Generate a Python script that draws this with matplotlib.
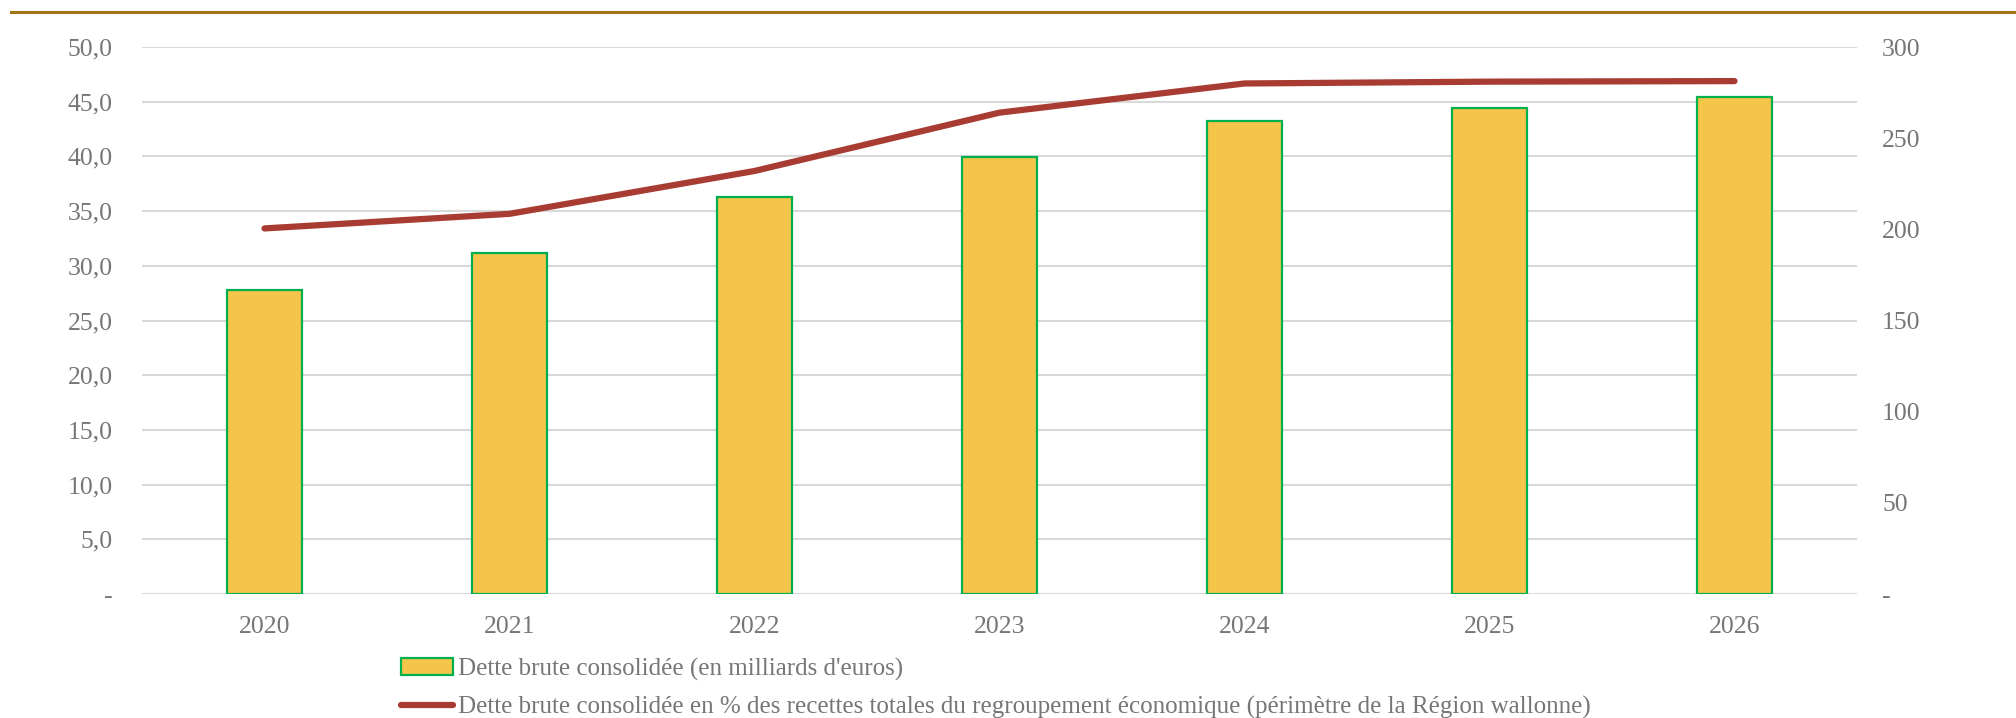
import matplotlib
matplotlib.use("Agg")
import matplotlib.pyplot as plt
from matplotlib.lines import Line2D
from matplotlib.patches import Patch
import numpy as np

years = ["2020", "2021", "2022", "2023", "2024", "2025", "2026"]
dette = [27.8, 31.2, 36.3, 39.9, 43.2, 44.4, 45.4]
pct = [200.5, 208.5, 232.0, 264.0, 280.0, 281.0, 281.3]
left_ticks = [0, 5, 10, 15, 20, 25, 30, 35, 40, 45, 50]
right_ticks = [0, 50, 100, 150, 200, 250, 300]
bar_label = "Dette brute consolidée (en milliards d'euros)"
line_label = "Dette brute consolidée en % des recettes totales du regroupement économique (périmètre de la Région wallonne)"

plt.rcParams['font.family'] = ['Liberation Serif', 'DejaVu Serif']
txt = '#767676'
fig = plt.figure(figsize=(20.16, 7.18), dpi=100)
ax = fig.add_axes([142/2016, 1-594/718, (1857-142)/2016, (594-47)/718])
ax2 = ax.twinx()

x = np.arange(len(years))
ax.bar(x, dette, width=0.31, color='#F5C54A', edgecolor='#00B050', linewidth=1.6, zorder=3)
ax.set_xlim(-0.5, len(years) - 0.5)
ax.set_ylim(0, 50)
ax.set_yticks(left_ticks)
ax.set_yticklabels(['-' if v == 0 else f"{v:.1f}".replace('.', ',') for v in left_ticks])
ax.set_xticks(x)
ax.set_xticklabels(years)
ax.grid(axis='y', color='#D9D9D9', linewidth=1.5, zorder=0)
ax.set_axisbelow(True)

ax2.plot(x, pct, color='#A83C33', linewidth=4.5, solid_capstyle='round', zorder=4)
ax2.set_ylim(0, 300)
ax2.set_yticks(right_ticks)
ax2.set_yticklabels(['-' if v == 0 else str(v) for v in right_ticks])

for a in (ax, ax2):
    for s in a.spines.values():
        s.set_visible(False)
    a.tick_params(length=0, labelsize=18.5, colors=txt)
ax.tick_params(axis='y', pad=21)
ax.tick_params(axis='x', pad=16)
ax2.tick_params(axis='y', pad=18)

# top gold rule
fig.add_artist(Line2D([11/2016, 1], [1-12/718, 1-12/718], color='#A07412', linewidth=2.2))

handles = [Patch(facecolor='#F5C54A', edgecolor='#00B050', linewidth=1.6),
           Line2D([0], [0], color='#A83C33', linewidth=4.5, solid_capstyle='round')]
leg = fig.legend(handles, [bar_label, line_label], loc='upper left',
                 bbox_to_anchor=(388/2016, 1-645/718), frameon=False, fontsize=18,
                 handlelength=2.1, handletextpad=0.2, labelspacing=0.6, borderpad=0)
for t in leg.get_texts():
    t.set_color(txt)

fig.savefig('out.png', dpi=100)
